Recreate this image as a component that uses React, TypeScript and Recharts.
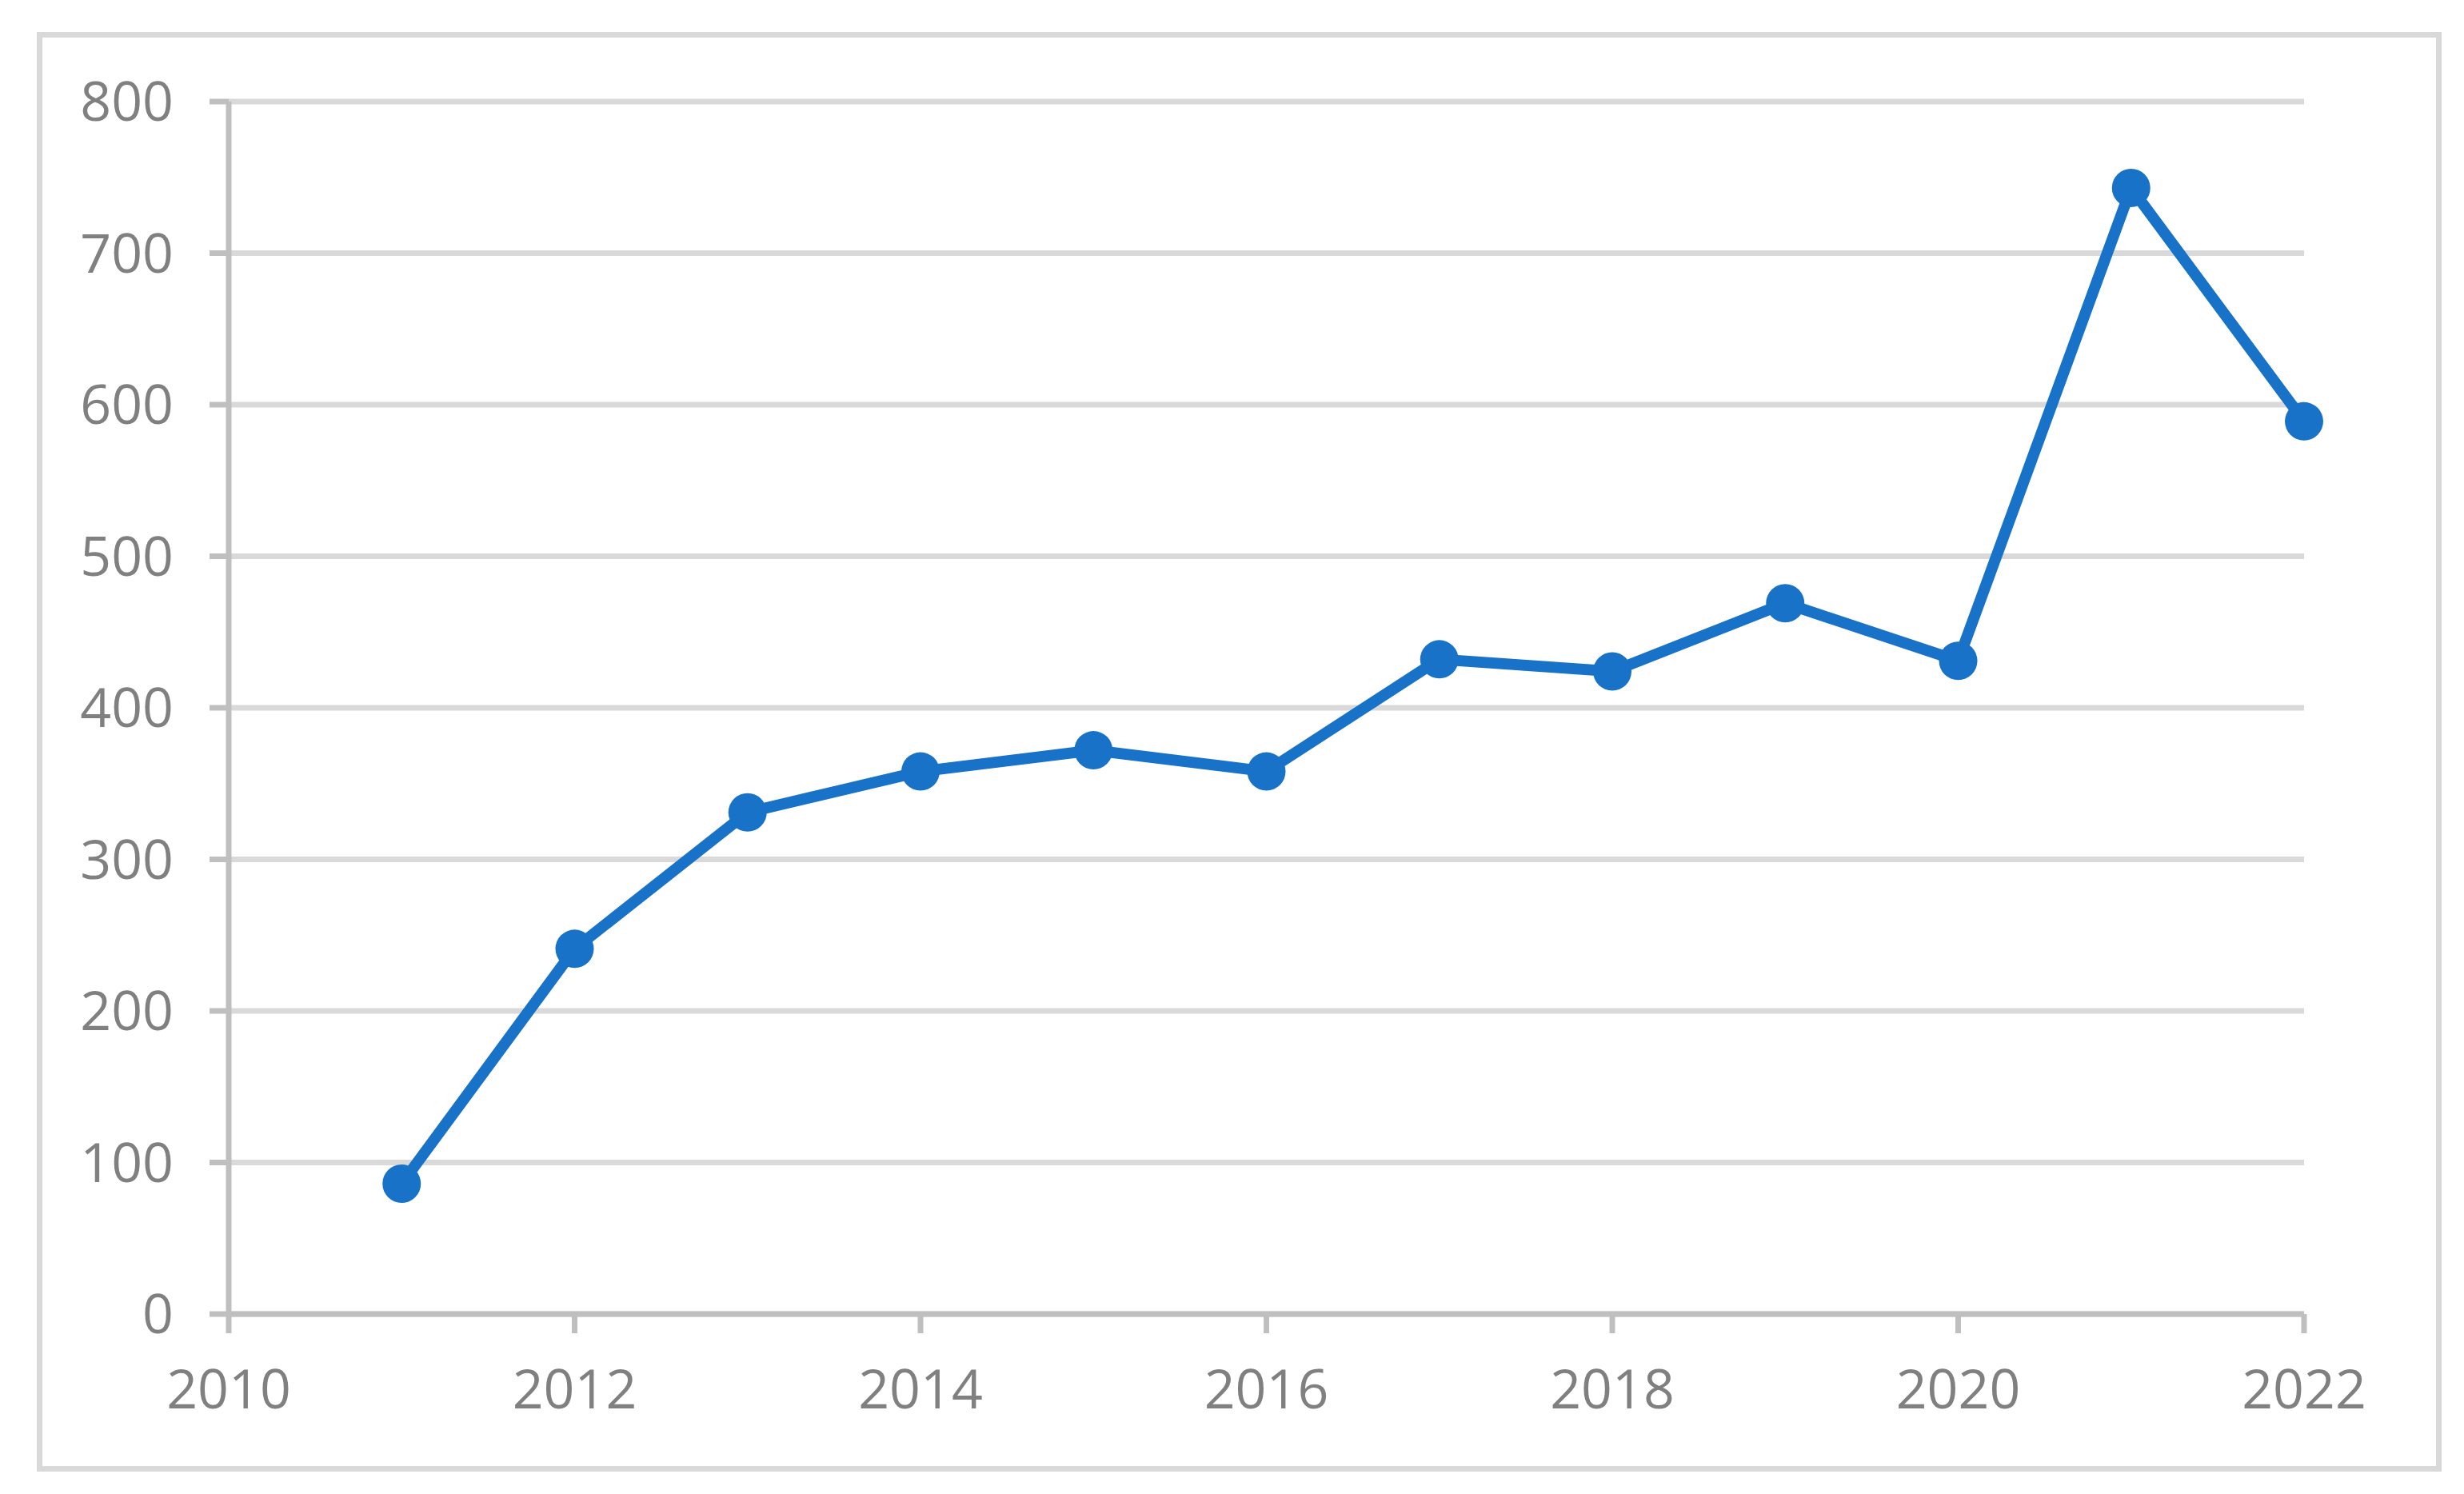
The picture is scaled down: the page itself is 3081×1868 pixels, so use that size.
import React from 'react';
import { LineChart, Line, XAxis, YAxis, CartesianGrid } from 'recharts';

const years = [2011, 2012, 2013, 2014, 2015, 2016, 2017, 2018, 2019, 2020, 2021, 2022];
const counts = [86, 241, 331, 358, 372, 358, 432, 424, 469, 431, 743, 589];
const xTicks = [2010, 2012, 2014, 2016, 2018, 2020, 2022];
const yTicks = [0, 100, 200, 300, 400, 500, 600, 700, 800];

const data = years.map((year, i) => ({ year, value: counts[i] }));

const BLUE = '#1872c8';
const AXIS = '#bfbfbf';
const GRID = '#d9d9d9';
const LABEL = '#808080';

const tickStyle = { fontSize: 68, fill: LABEL, fontFamily: '"Open Sans", sans-serif' };

export default function App() {
  return (
    <div style={{ position: 'absolute', left: 0, top: 0, width: 3081, height: 1868, background: '#fff' }}>
      {/* chart frame */}
      <div
        style={{
          position: 'absolute',
          left: 46,
          top: 40,
          width: 2993,
          height: 1786,
          border: `7px solid ${GRID}`,
        }}
      />
      <div style={{ position: 'absolute', left: 0, top: 0 }}>
        <LineChart width={3081} height={1868} data={data} margin={{ top: 127, right: 200, bottom: 0, left: 0 }}>
          <CartesianGrid vertical={false} stroke={GRID} strokeWidth={7} />
          <XAxis
            dataKey="year"
            type="number"
            domain={[2010, 2022]}
            ticks={xTicks}
            height={225}
            tick={tickStyle}
            tickSize={24}
            tickMargin={46}
            axisLine={{ stroke: AXIS, strokeWidth: 7 }}
            tickLine={{ stroke: AXIS, strokeWidth: 7 }}
          />
          <YAxis
            domain={[0, 800]}
            ticks={yTicks}
            width={286}
            tick={tickStyle}
            tickSize={24}
            tickMargin={45}
            axisLine={{ stroke: AXIS, strokeWidth: 7 }}
            tickLine={{ stroke: AXIS, strokeWidth: 7 }}
          />
          <Line
            type="linear"
            dataKey="value"
            stroke={BLUE}
            strokeWidth={14}
            dot={{ r: 24, fill: BLUE, stroke: 'none' }}
            activeDot={false}
            isAnimationActive={false}
          />
        </LineChart>
      </div>
    </div>
  );
}
